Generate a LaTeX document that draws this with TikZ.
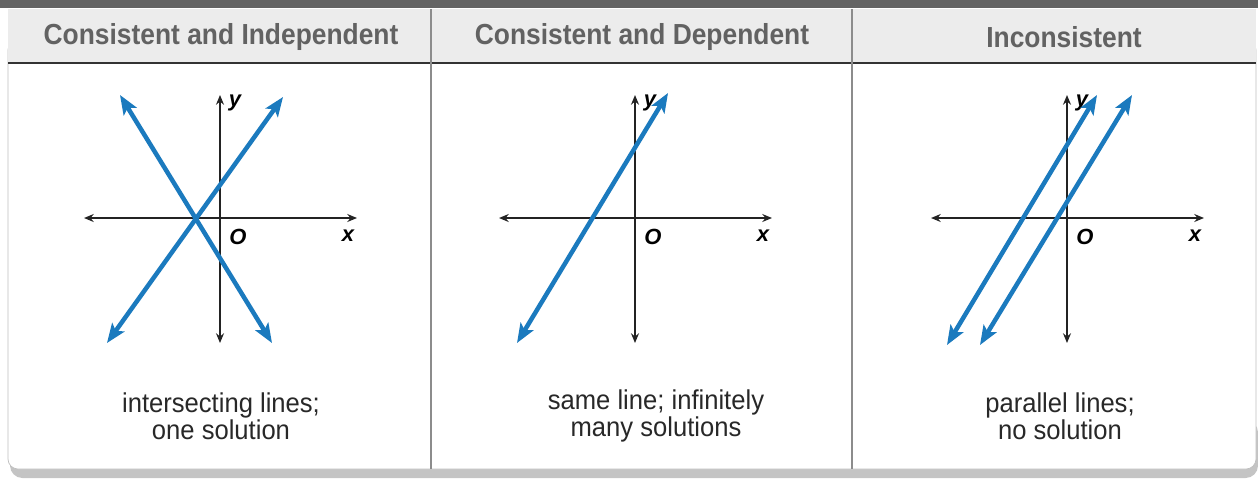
\documentclass[tikz,border=0pt]{standalone}
\usepackage{fontspec}
\setmainfont{Liberation Sans}
\newfontfamily\headfont[FakeStretch=0.91]{Liberation Sans}
\newfontfamily\capfont[FakeStretch=0.94]{Liberation Sans}
\usetikzlibrary{arrows.meta,positioning}
\definecolor{lineblue}{RGB}{27,122,190}
\definecolor{headgray}{RGB}{236,236,236}
\definecolor{stripgray}{RGB}{100,100,100}
\definecolor{shadowgray}{RGB}{196,196,196}
\definecolor{headtext}{RGB}{98,98,98}
\definecolor{captext}{RGB}{40,40,40}
\definecolor{axisgray}{RGB}{35,35,35}

\begin{document}
\begin{tikzpicture}[
    x=0.02cm, y=-0.02cm,
    % --- STYLES ---
    header/.style={
        font=\headfont\fontsize{16.5}{18}\selectfont\bfseries,
        text=headtext, inner sep=0pt
    },
    caption/.style={
        font=\capfont\fontsize{15.5}{15.6}\selectfont,
        text=captext, align=center, inner sep=0pt
    },
    axlabel/.style={font=\fontsize{12.5}{14}\selectfont\bfseries\itshape, inner sep=0pt},
    axis/.style={line width=0.05cm, draw=axisgray,
        {Stealth[length=5.5pt,width=4.5pt]}-{Stealth[length=5.5pt,width=4.5pt]}},
    graphline/.style={line width=0.09cm, draw=lineblue,
        {Stealth[length=11pt,width=8.5pt,inset=2.5pt]}-{Stealth[length=11pt,width=8.5pt,inset=2.5pt]}},
    divider/.style={line width=0.035cm, draw=black!45}
]
\useasboundingbox (0,0) rectangle (1258,478);

% ===== 1. TABLE FRAME =====
\fill[white] (0,0) rectangle (1258,478);
\fill[shadowgray, rounded corners=0.25cm] (10,420) rectangle (1258,478);
\filldraw[fill=white, draw=black!25, rounded corners=0.2cm] (8,40) rectangle (1256,469);
\fill[headgray] (8,9) rectangle (1256,63);
\fill[stripgray] (0,0) rectangle (1258,8);
\draw[line width=0.05cm, black!80] (8,63) -- (1256,63);

% Trennlinien der Spalten
\draw[divider] (431,9) -- (431,469);
\draw[divider] (852,9) -- (852,469);

% ===== 2. HEADERS & CAPTIONS =====
\node[header] (head1) at (221,37) {Consistent and Independent};
\node[header] (head2) at (642,37) {Consistent and Dependent};
\node[header] (head3) at (1064,37) {Inconsistent};

\node[caption] (cap1) at (221,416) {intersecting lines;\\ one solution};
\node[caption] (cap2) at (656,416) {same line; infinitely\\ many solutions};
\node[caption] (cap3) at (1060,416) {parallel lines;\\ no solution};

% ===== 3. AXES =====
\foreach \o [count=\i] in {220,635,1067} {
    \coordinate (orig\i) at (\o,218);
    \draw[axis] (\o-136,218) -- (\o+137,218);
    \draw[axis] (\o,95) -- (\o,343);
    \node[axlabel] (ylab\i) at (\o+15,103) {y};
    \node[axlabel] (olab\i) at (\o+18,237) {O};
    \node[axlabel] (xlab\i) at (\o+128,236) {x};
}

% ===== 4. LINES =====
% Schnittpunkt
\draw[graphline] (120,95) -- (272,343);
\draw[graphline] (107,343) -- (283,97);

% gleiche Gerade
\draw[graphline] (517,343) -- (668,93);

% parallele Geraden
\draw[graphline] (947,345) -- (1097,95);
\draw[graphline] (980,345) -- (1132,95);

\end{tikzpicture}
\end{document}
